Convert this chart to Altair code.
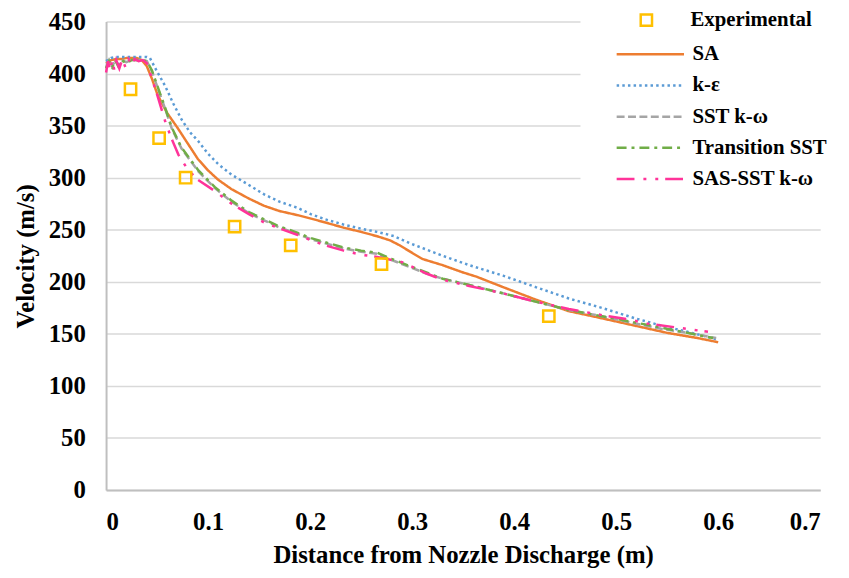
import altair as alt
import pandas as pd

line_names = ["SA", "k-ε", "SST k-ω", "Transition SST", "SAS-SST k-ω"]
line_colors = ["#ED7D31", "#5B9BD5", "#A5A5A5", "#70AD47", "#FF3399"]
line_dashes = [[1, 0], [2.5, 3.2], [8, 3.5], [10, 5, 3, 5], [18, 9, 3, 9, 3, 7]]
exp_name = ["Experimental"]
exp_color = ["#FFC000"]

exp_x = [0.024, 0.052, 0.078, 0.126, 0.181, 0.270, 0.434]
exp_v = [385, 338, 300, 253, 235, 217, 167]

sa_x = [0, 0.005, 0.01, 0.015, 0.02, 0.025, 0.03, 0.035, 0.04, 0.045, 0.05, 0.055, 0.06, 0.065,
        0.07, 0.08, 0.09, 0.10, 0.11, 0.123, 0.14, 0.155, 0.17, 0.188, 0.20, 0.215, 0.233, 0.25,
        0.265, 0.278, 0.288, 0.298, 0.31, 0.33, 0.35, 0.363, 0.389, 0.421, 0.453, 0.486, 0.518,
        0.55, 0.58, 0.60]
sa_v = [410, 413, 414, 414, 415, 415, 415, 413, 407, 395, 381, 371, 362, 355,
        348, 333, 318, 307, 298, 289, 280, 273, 268, 264, 261, 257, 252, 248,
        244, 240, 235, 229, 222, 216, 209, 205, 195, 183, 172, 165, 158,
        151, 146, 142]

ke_x = [0, 0.005, 0.01, 0.015, 0.02, 0.025, 0.03, 0.035, 0.04, 0.043, 0.05, 0.058, 0.066, 0.074,
        0.082, 0.0905, 0.10, 0.11, 0.123, 0.14, 0.155, 0.17, 0.188, 0.2007, 0.215, 0.233, 0.25,
        0.2656, 0.282, 0.298, 0.314, 0.330, 0.356, 0.389, 0.421, 0.4536, 0.486, 0.5185, 0.544,
        0.57, 0.598]
ke_v = [412, 415, 416, 416, 416, 416, 416, 416, 416, 415, 402, 388, 371, 356,
        344, 335, 323, 313, 303, 293, 284, 277, 271, 265, 260, 255, 251,
        248, 244, 237, 231, 225, 216, 206, 195, 184, 175, 165, 158,
        152, 145]

sst_x = [0, 0.003, 0.006, 0.009, 0.012, 0.015, 0.02, 0.025, 0.03, 0.035, 0.04, 0.045, 0.05, 0.058,
         0.0645, 0.074, 0.0905, 0.1067, 0.123, 0.14, 0.155, 0.168, 0.188, 0.2007, 0.215, 0.233,
         0.25, 0.2656, 0.28, 0.298, 0.314, 0.330, 0.356, 0.389, 0.421, 0.4536, 0.486, 0.5185,
         0.544, 0.57, 0.598]
sst_v = [406, 413, 407, 413, 408, 413, 411, 413, 413, 413, 412, 402, 388, 366,
         347, 328, 306, 290, 277, 266, 259, 253, 246, 241, 237, 232,
         229, 227, 221, 214, 208, 203, 197, 189, 181, 173, 167, 160,
         155, 151, 146]

tr_x = [0, 0.003, 0.006, 0.009, 0.012, 0.015, 0.02, 0.025, 0.03, 0.035, 0.04, 0.045, 0.05, 0.058,
        0.0645, 0.074, 0.0905, 0.1067, 0.123, 0.14, 0.155, 0.168, 0.188, 0.2007, 0.215, 0.233,
        0.25, 0.2656, 0.28, 0.298, 0.314, 0.330, 0.356, 0.389, 0.421, 0.4536, 0.486, 0.5185,
        0.544, 0.57, 0.595]
tr_v = [405, 412, 406, 413, 407, 413, 410, 413, 413, 413, 412, 403, 389, 367,
        348, 329, 307, 291, 278, 267, 260, 254, 247, 242, 238, 233,
        230, 228, 222, 215, 209, 203, 197, 189, 181, 173, 167, 161,
        156, 151, 146]

sas_x = [0, 0.002, 0.004, 0.006, 0.008, 0.01, 0.013, 0.016, 0.019, 0.022, 0.025, 0.028, 0.032,
         0.036, 0.04, 0.045, 0.05, 0.058, 0.064, 0.071, 0.08, 0.09, 0.107, 0.123, 0.14, 0.155,
         0.168, 0.188, 0.2007, 0.215, 0.233, 0.25, 0.2656, 0.29, 0.314, 0.33, 0.356, 0.389,
         0.421, 0.4536, 0.486, 0.512, 0.53, 0.5605, 0.59]
sas_v = [401, 412, 403, 413, 404, 413, 405, 414, 406, 414, 409, 414, 412,
         413, 410, 395, 380, 354, 338, 322, 308, 298, 287, 275, 265, 257,
         252, 245, 240, 235, 230, 226, 224, 219, 208, 202, 196, 189,
         181, 174, 168, 164, 160, 156, 152]

line_series = [("SA", sa_x, sa_v), ("k-ε", ke_x, ke_v), ("SST k-ω", sst_x, sst_v),
               ("Transition SST", tr_x, tr_v), ("SAS-SST k-ω", sas_x, sas_v)]

rows = []
for name, xs, vs in line_series:
    for x, v in zip(xs, vs):
        rows.append({"series": name, "x": x, "v": v})
lines_df = pd.DataFrame(rows)
exp_df = pd.DataFrame({"series": "Experimental", "x": exp_x, "v": exp_v})

FONT = "Liberation Serif, Times New Roman, DejaVu Serif, serif"
common = dict(title=None, orient="none", fillColor="white",
              labelFont=FONT, labelFontWeight="bold", labelFontSize=21, labelColor="black",
              labelLimit=400)

line_legend = alt.Legend(legendX=479, legendY=-13, padding=35, labelOffset=7, zindex=0,
                         symbolType="stroke", symbolSize=4624, symbolStrokeWidth=2.5,
                         clipHeight=22, rowPadding=9.5, **common)
exp_legend = alt.Legend(legendX=525, legendY=-22, padding=10, labelOffset=34, zindex=1,
                        symbolType="square", symbolSize=130, symbolStrokeWidth=2.5,
                        symbolFillColor="transparent", **common)

x_enc = alt.X("x:Q", scale=alt.Scale(domain=[0, 0.7], nice=False),
              axis=alt.Axis(values=[0, 0.1, 0.2, 0.3, 0.4, 0.5, 0.6, 0.7], format="~g", grid=False,
                            ticks=False, tickSize=0, domainColor="#BFBFBF", domainWidth=2,
                            labelFont=FONT, labelFontWeight="bold", labelFontSize=25, labelColor="black",
                            labelPadding=20, title="Distance from Nozzle Discharge (m)",
                            titleFont=FONT, titleFontWeight="bold", titleFontSize=25,
                            titleColor="black", titlePadding=8))
y_enc = alt.Y("v:Q", scale=alt.Scale(domain=[0, 450], nice=False),
              axis=alt.Axis(values=list(range(0, 451, 50)), format="d", grid=True,
                            gridColor="#D9D9D9", gridWidth=1.5,
                            ticks=False, tickSize=0, domainColor="#BFBFBF", domainWidth=2,
                            labelFont=FONT, labelFontWeight="bold", labelFontSize=25, labelColor="black",
                            labelPadding=21, title="Velocity (m/s)",
                            titleFont=FONT, titleFontWeight="bold", titleFontSize=25,
                            titleColor="black", titlePadding=10))

lines = alt.Chart(lines_df).mark_line(strokeWidth=2.5).encode(
    x=x_enc, y=y_enc,
    color=alt.Color("series:N", scale=alt.Scale(domain=line_names, range=line_colors), legend=line_legend),
    strokeDash=alt.StrokeDash("series:N", scale=alt.Scale(domain=line_names, range=line_dashes),
                              legend=line_legend),
)
points = alt.Chart(exp_df).mark_point(shape="square", filled=False, strokeWidth=2.5, size=130,
                                      opacity=1).encode(
    x="x:Q", y="v:Q",
    color=alt.Color("series:N", scale=alt.Scale(domain=exp_name, range=exp_color), legend=exp_legend),
)

chart = alt.layer(lines, points).resolve_scale(color="independent", strokeDash="independent").properties(
    width=721, height=473,
    autosize=alt.AutoSizeParams(type="none"),
    padding={"left": 99, "top": 11, "right": 21, "bottom": 78},
).configure_view(stroke=None)

chart.save("out.html", embed_options={"renderer": "svg", "actions": False})
